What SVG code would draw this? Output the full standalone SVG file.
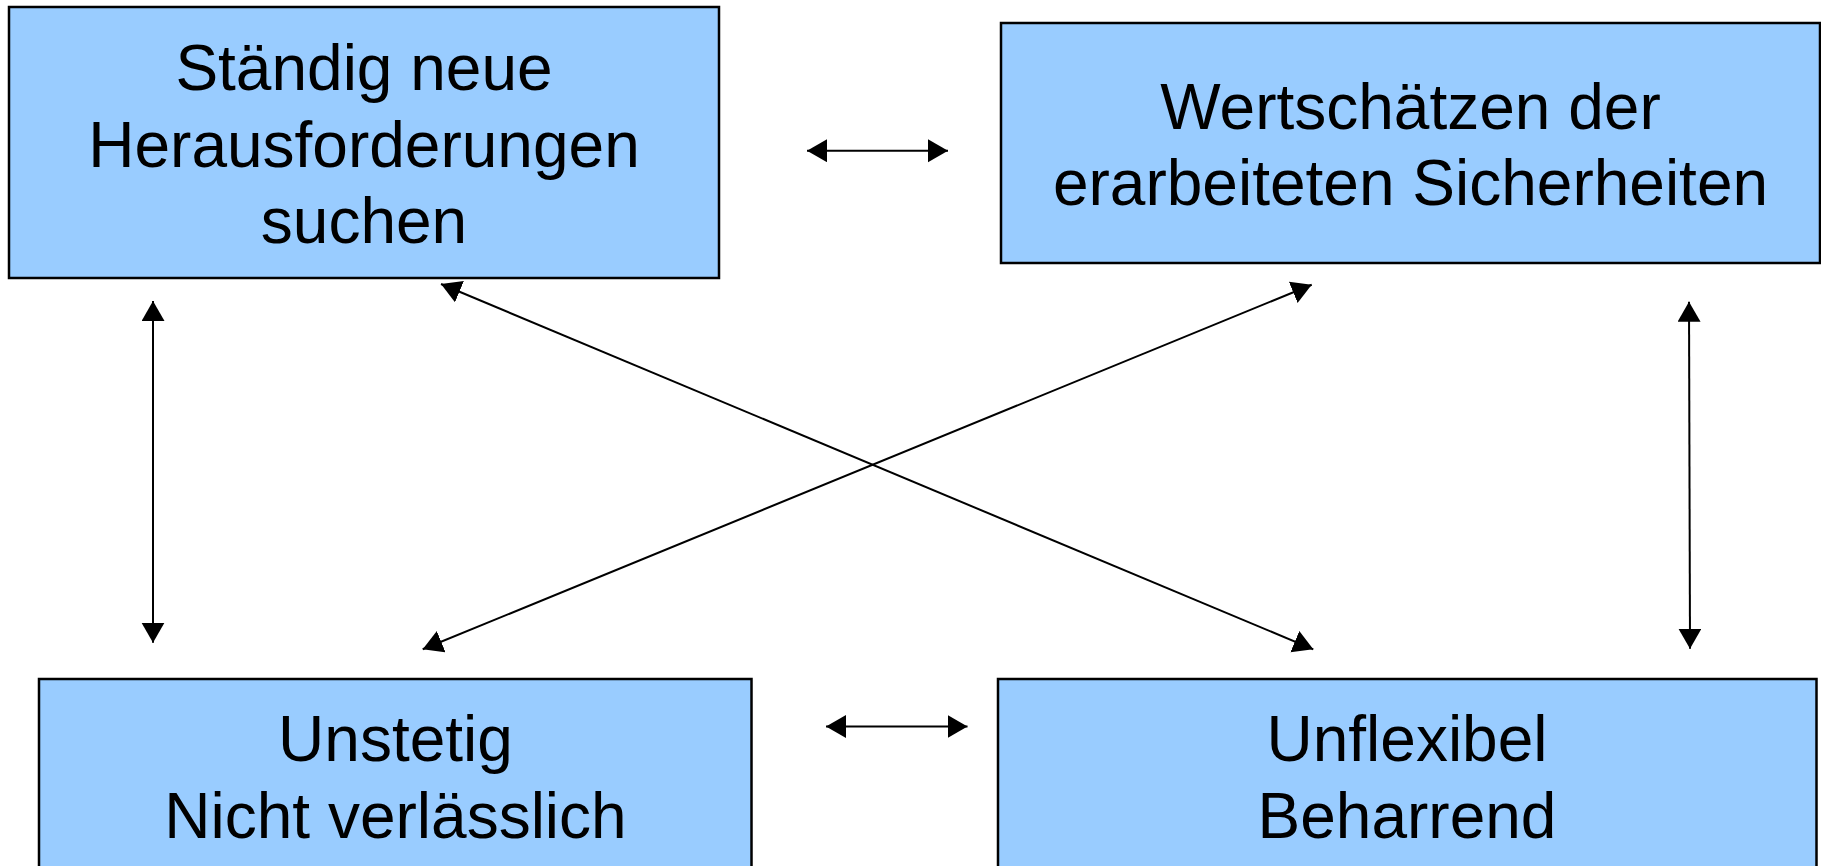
<svg xmlns="http://www.w3.org/2000/svg" width="1821" height="866" viewBox="0 0 1821 866">
<style>
.box{fill:#99CCFF;stroke:#000;stroke-width:2.5}
.t{font-family:"Liberation Sans",Arial,sans-serif;font-size:64px;fill:#000;text-anchor:middle}
.c{stroke:#000;stroke-width:2;fill:none;marker-start:url(#ah);marker-end:url(#ah)}
</style>
<defs>
<marker id="ah" markerUnits="userSpaceOnUse" markerWidth="22" markerHeight="24" refX="20" refY="11.5" orient="auto-start-reverse">
<path d="M0,0 L20,11.5 L0,23 z" fill="#000"/>
</marker>
</defs>
<rect width="1821" height="866" fill="#fff"/>
<g id="node1">
<rect class="box" x="9" y="7" width="710" height="271"/>
<text class="t" x="364" y="90">Ständig neue</text>
<text class="t" x="364" y="166.5">Herausforderungen</text>
<text class="t" x="364" y="243">suchen</text>
</g>
<g id="node2">
<rect class="box" x="1001" y="23" width="819" height="240"/>
<text class="t" x="1410.5" y="128.5">Wertschätzen der</text>
<text class="t" x="1410.5" y="205">erarbeiteten Sicherheiten</text>
</g>
<g id="node3">
<rect class="box" x="39" y="679" width="712.5" height="200"/>
<text class="t" x="395.5" y="760.5">Unstetig</text>
<text class="t" x="395.5" y="837.5">Nicht verlässlich</text>
</g>
<g id="node4">
<rect class="box" x="998" y="679" width="818.5" height="200"/>
<text class="t" x="1407" y="760.5">Unflexibel</text>
<text class="t" x="1407" y="837.5">Beharrend</text>
</g>
<g id="connectors">
<line class="c" x1="807" y1="150.7" x2="948" y2="150.7"/>
<line class="c" x1="826" y1="726.5" x2="967.5" y2="726.5"/>
<line class="c" x1="153" y1="301" x2="153" y2="642.7"/>
<line class="c" x1="1689" y1="301.7" x2="1690" y2="648.7"/>
<line class="c" x1="441" y1="284" x2="1313.3" y2="649.3"/>
<line class="c" x1="422.7" y1="649.3" x2="1311.7" y2="284.7"/>
</g>
</svg>
